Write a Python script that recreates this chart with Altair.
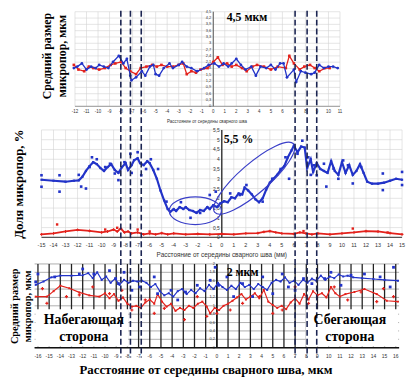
import altair as alt
import pandas as pd

# ---------------- data ----------------
top_blue = [(-12.1,1.82),(-11.8,1.89),(-11.4,2.04),(-11.0,1.75),(-10.6,1.89),(-10.2,1.82),(-9.9,1.97),(-9.5,1.89),(-9.1,1.82),(-8.7,2.11),
            (-8.2,2.40),(-7.8,2.04),(-7.5,2.26),(-7.2,1.46),(-7.1,1.24),(-6.7,1.38),(-6.2,1.67),(-5.9,1.46),(-5.5,1.89),(-5.2,1.97),
            (-5.0,1.53),(-4.7,1.46),(-4.3,1.82),(-3.8,2.04),(-3.5,1.82),(-3.0,1.97),(-2.7,2.11),(-2.3,1.89),(-1.9,1.82),(-1.4,1.67),
            (-0.8,1.82),(-0.4,1.97),(0.1,2.04),(0.5,1.89),(0.9,2.04),(1.3,1.89),(1.6,2.04),(2.0,2.26),(2.4,1.97),(2.8,1.75),
            (3.3,1.89),(3.7,1.46),(4.1,1.89),(4.6,1.82),(5.0,1.97),(5.4,1.75),(5.8,2.04),(6.1,2.04),(6.4,1.38),(7.0,1.75),
            (7.2,1.16),(7.6,1.67),(8.0,1.60),(8.5,1.53),(8.8,1.60),(9.2,1.97),(9.6,1.82),(10.0,1.89),(10.4,1.89),(10.8,1.82)]
top_red = [(-12.1,1.97),(-11.7,1.75),(-11.2,1.67),(-10.8,1.89),(-10.4,1.82),(-9.9,1.75),(-9.4,1.82),(-8.9,1.97),(-8.5,2.04),(-8.0,2.11),
           (-7.6,1.82),(-7.2,1.67),(-6.7,1.53),(-6.3,1.82),(-5.8,1.89),(-5.3,1.97),(-4.9,1.89),(-4.5,1.97),(-4.0,1.89),(-3.5,1.89),
           (-3.0,1.97),(-2.6,2.04),(-2.3,1.53),(-1.9,1.67),(-1.5,1.60),(-1.1,1.75),(-0.5,1.82),(0.0,2.11),(0.4,2.33),(0.8,1.97),
           (1.2,2.04),(1.6,1.89),(2.0,1.97),(2.5,1.82),(2.9,1.67),(3.4,1.89),(3.8,1.97),(4.4,1.89),(5.0,1.75),(5.6,1.89),
           (6.3,1.82),(6.6,2.40),(7.0,2.04),(7.5,1.75),(7.9,1.89),(8.4,1.97),(8.8,1.82),(9.2,1.67),(9.7,1.82),(10.1,1.82)]

mid_blue_line = [(-15.0,2.95),(-14.0,2.90),(-13.0,2.85),(-12.3,2.90),(-11.9,2.92),(-11.6,3.10),(-11.3,3.40),(-11.0,3.65),(-10.7,3.85),(-10.4,3.75),
                 (-10.1,3.55),(-9.8,3.40),(-9.5,3.60),(-9.2,3.75),(-8.9,3.45),(-8.6,3.30),(-8.3,3.60),(-8.0,3.80),(-7.8,3.45),(-7.5,3.70),
                 (-7.3,3.95),(-7.0,4.05),(-6.8,3.80),(-6.5,3.70),(-6.2,3.90),(-6.0,3.80),(-5.7,3.45),(-5.4,3.00),(-5.1,2.40),(-4.8,1.90),
                 (-4.5,1.45),(-4.3,1.30),(-4.0,1.45),(-3.8,1.35),(-3.5,1.55),(-3.2,1.45),(-3.0,1.55),(-2.7,1.40),(-2.4,1.35),(-2.1,1.25),
                 (-1.8,1.40),(-1.5,1.35),(-1.2,1.55),(-1.0,1.45),(-0.7,1.65),(-0.4,1.55),(-0.1,1.75),(0.2,1.85),(0.5,1.80),(0.8,2.05),
                 (1.1,2.00),(1.4,2.25),(1.7,2.20),(1.9,2.55),(2.2,2.40),(2.5,2.20),(2.8,1.95),(3.1,1.80),(3.4,2.00),(3.7,2.45),
                 (4.0,2.80),(4.3,3.00),(4.6,3.20),(4.9,3.45),(5.2,3.65),(5.5,4.10),(5.8,4.45),(6.0,4.70),(6.3,4.35),(6.6,4.65),
                 (6.9,4.60),(7.1,3.55),(7.4,4.00),(7.6,3.35),(7.9,3.80),(8.2,3.50),(8.5,3.40),(8.8,3.30),(9.1,3.90),(9.4,3.40),
                 (9.7,3.20),(10.0,3.85),(10.3,3.30),(10.6,3.70),(10.9,3.20),(11.2,3.40),(11.5,3.75),(11.8,3.30),(12.1,2.85),(12.5,2.75),
                 (13.0,2.75),(13.5,2.80),(14.0,2.90),(14.5,3.00),(15.0,2.95)]
mid_blue_pts = [(-15,3.18),(-15,2.59),(-13.5,3.18),(-13.5,2.34),(-11.9,3.2),(-11.7,2.6),(-11.3,2.5),(-11,3.6),(-10.8,4.1),(-10.4,4.0),
                (-9.7,3.6),(-9.3,3.77),(-8.9,3.27),(-8.6,2.93),(-8.1,3.85),(-7.6,4.28),(-7.5,3.3),(-7.0,4.36),(-6.7,3.18),(-6.3,3.5),
                (-5.9,4.0),(-5.3,3.5),(-4.6,1.83),(-3.4,1.8),(-2.6,1.0),(-1.8,1.25),(-1.0,2.17),(-0.5,2.34),(0.7,2.25),(1.5,2.17),
                (2.05,2.68),(3.4,1.83),(4.2,3.0),(4.9,3.5),(5.3,4.1),(5.6,3.0),(6.3,4.28),(6.7,4.95),(7.2,4.1),(7.4,3.2),
                (7.65,3.69),(7.9,3.18),(8.5,3.77),(8.7,2.6),(9.3,3.52),(9.7,3.0),(10.1,3.94),(10.5,3.69),(10.9,2.76),(11.6,3.6),
                (13.4,3.27),(13.4,2.42),(15,3.35),(15,2.68)]
mid_red_line = [(-15,0.15),(-14,0.20),(-13,0.30),(-12,0.38),(-11,0.33),(-10,0.25),(-9.5,0.30),(-9.0,0.40),(-8.7,0.30),(-8.4,0.45),
                (-8.1,0.25),(-7.8,0.30),(-7.5,0.20),(-7.0,0.25),(-6.5,0.15),(-6.0,0.20),(-5.5,0.15),(-5.0,0.22),(-4.5,0.15),(-4.0,0.20),
                (-3.0,0.15),(-2.0,0.18),(-1.0,0.15),(0.0,0.18),(1.0,0.15),(2.0,0.20),(3.0,0.22),(3.5,0.28),(4.0,0.32),(4.5,0.25),
                (5.0,0.20),(6.0,0.18),(6.5,0.25),(7.0,0.20),(7.5,0.15),(8.0,0.20),(9.0,0.15),(10.0,0.20),(11.0,0.25),(12.0,0.32),
                (13.0,0.30),(14.0,0.22),(15.0,0.15)]
mid_red_pts = [(-13.7,0.66),(-9.7,0.40),(-8.7,0.49),(-7.0,0.40),(-6.0,0.30),(6.8,0.32),(10.9,0.45),(13.8,0.25)]

bot_blue_line = [(-16.2,1.50),(-15.5,1.58),(-14.8,1.68),(-14.0,1.72),(-13.0,1.72),(-12.0,1.73),(-11.5,1.78),(-11.1,1.66),(-10.7,1.80),(-10.3,1.62),
                 (-9.9,1.70),(-9.5,1.55),(-9.1,1.65),(-8.7,1.50),(-8.3,1.62),(-7.9,1.55),(-7.5,1.60),(-7.1,1.58),(-6.7,1.60),(-6.3,1.55),
                 (-5.9,1.45),(-5.5,1.52),(-5.1,1.35),(-4.7,1.25),(-4.3,1.30),(-3.9,1.22),(-3.5,1.35),(-3.1,1.40),(-2.7,1.28),(-2.3,1.38),
                 (-1.9,1.30),(-1.5,1.42),(-1.1,1.35),(-0.7,1.50),(-0.3,1.40),(0.1,1.55),(0.5,1.45),(0.9,1.38),(1.3,1.48),(1.7,1.40),
                 (2.1,1.55),(2.5,1.45),(2.9,1.50),(3.3,1.40),(3.7,1.52),(4.1,1.45),(4.5,1.38),(4.9,1.55),(5.3,1.62),(5.7,1.58),
                 (6.1,1.68),(6.5,1.55),(6.9,1.60),(7.3,1.50),(7.7,1.62),(8.1,1.55),(8.5,1.65),(8.9,1.60),(9.3,1.72),(9.7,1.62),
                 (10.1,1.70),(10.5,1.66),(10.9,1.75),(11.3,1.70),(11.7,1.72),(12.2,1.68),(13.0,1.66),(14.0,1.64),(15.0,1.62),(16.2,1.60)]
bot_blue_pts = [(-16.2,1.57),(-16.0,1.76),(-14.5,1.69),(-12.3,1.76),(-12.0,1.88),(-11.0,1.76),(-9.6,1.84),(-9.05,1.65),(-8.8,1.53),(-8.3,1.80),
                (-7.6,1.37),(-6.9,1.45),(-5.6,1.69),(-5.3,1.29),(-4.1,1.37),(-3.5,1.14),(-2.8,1.33),(-1.75,1.49),(-0.6,1.61),(-0.15,1.92),
                (0.15,1.49),(0.9,1.69),(1.5,1.22),(2.3,1.53),(3.2,1.22),(4.1,1.69),(5.0,1.29),(5.85,1.76),(6.4,1.45),(7.0,1.37),
                (7.75,1.65),(8.5,1.53),(9.65,1.65),(10.2,1.80),(11.1,1.49),(12.0,1.73),(13.2,1.76),(14.6,1.69),(15.5,1.45),(15.8,1.92)]
bot_red_line = [(-16.2,1.22),(-15.2,1.22),(-14.6,1.35),(-14.0,1.48),(-13.2,1.42),(-12.3,1.32),(-11.4,1.25),(-10.5,1.22),(-10.0,1.30),(-9.6,1.18),
                (-9.2,1.28),(-8.8,1.12),(-8.4,1.20),(-8.0,1.05),(-7.6,0.98),(-7.2,1.00),(-6.8,0.95),(-6.4,1.08),(-6.0,1.15),(-5.6,1.05),
                (-5.3,1.28),(-4.9,1.10),(-4.5,0.98),(-4.1,1.05),(-3.7,0.88),(-3.3,0.95),(-2.9,0.90),(-2.5,1.00),(-2.1,0.95),(-1.7,1.05),
                (-1.3,1.10),(-0.9,0.98),(-0.6,0.82),(-0.2,0.95),(0.2,0.90),(0.6,1.00),(1.0,1.05),(1.4,1.12),(1.8,1.20),(2.2,1.28),
                (2.6,1.15),(3.0,1.22),(3.4,1.30),(3.8,1.18),(4.2,1.38),(4.6,1.10),(5.0,1.02),(5.4,0.95),(5.8,1.00),(6.2,0.92),
                (6.6,1.08),(7.0,1.18),(7.4,1.05),(7.8,1.28),(8.2,1.15),(8.6,1.35),(9.0,1.25),(9.4,1.30),(9.8,1.20),(10.2,1.45),
                (10.6,1.30),(11.0,1.22),(11.5,1.28),(12.3,1.33),(13.2,1.40),(14.3,1.28),(15.2,1.12),(16.2,1.10)]
bot_red_pts = [(-15.6,1.41),(-15.2,1.06),(-13.45,1.22),(-12.3,1.26),(-11.1,1.45),(-9.6,1.29),(-8.5,1.37),(-7.6,0.90),(-6.4,1.14),(-5.6,0.82),
               (-4.7,0.94),(-2.9,0.67),(-1.75,1.22),(-0.9,0.75),(0.0,0.82),(1.2,0.90),(2.3,1.06),(3.8,1.22),(5.0,0.82),(5.85,0.90),
               (7.0,1.45),(8.2,1.06),(9.35,0.82),(10.5,1.45),(11.7,1.14),(12.9,1.33),(14.3,1.10),(14.9,1.41),(15.8,1.22)]

# boundaries of the zones (mm, middle-panel scale)
dash_x = [-8.4, -7.6, -6.7, 6.1, 7.1, 7.9]

# ellipses on the middle panel: centre x, centre y
ell_small = [(-2.2, 1.36)]
ell_big = [(2.7, 3.03)]

top_xticks = list(range(-12, 12))
top_yticks = [0, 0.3, 0.6, 0.9, 1.2, 1.5, 1.8, 2.1, 2.4, 2.7, 3.0, 3.3, 3.6, 3.9, 4.2, 4.5]
mid_xticks = list(range(-15, 16))
mid_yticks = [0, 0.5, 1, 1.5, 2, 2.5, 3, 3.5, 4, 4.5, 5, 5.5]
bot_xticks = list(range(-16, 17))
bot_yticks = [0, 0.2, 0.4, 0.6, 0.8, 1.0, 1.2, 1.4, 1.6, 1.8, 2.0]

def lab(v):
    s = ("%g" % v)
    return s.replace(".", ",")

BLUE = "#2233c8"
RED = "#e3221c"
DASH = "#1c2552"
SERIF = "Liberation Serif"
SANS = "Liberation Sans"

# ---------------- layout (view pixels) ----------------
W, H = 404, 372
TOP = dict(xd=[-12, 11], xr=[68, 337], yd=[0, 4.5], yr=[97, 1])
MID = dict(xd=[-15, 15], xr=[34, 400], yd=[0, 5.5], yr=[230, 121])
BOT = dict(xd=[-16.3, 16.3], xr=[27, 397], yd=[0, 2], yr=[342, 257])


def sx(p):
    return alt.Scale(domain=p["xd"], range=p["xr"], nice=False, zero=False)


def sy(p):
    return alt.Scale(domain=p["yd"], range=p["yr"], nice=False, zero=False)


def X(p, f="x"):
    return alt.X(f + ":Q", scale=sx(p), axis=None)


def Y(p, f="y"):
    return alt.Y(f + ":Q", scale=sy(p), axis=None)


def df(pairs):
    return pd.DataFrame(pairs, columns=["x", "y"])


layers = []


def vgrid(p, ticks, color, w):
    layers.append(alt.Chart(pd.DataFrame({"x": ticks})).mark_rule(color=color, strokeWidth=w).encode(
        x=X(p), y=alt.value(p["yr"][1]), y2=alt.value(p["yr"][0])))


def hgrid(p, ticks, color, w):
    layers.append(alt.Chart(pd.DataFrame({"y": ticks})).mark_rule(color=color, strokeWidth=w).encode(
        y=Y(p), x=alt.value(p["xr"][0]), x2=alt.value(p["xr"][1])))


def xlabels(p, ticks, ypix, size):
    d = pd.DataFrame({"x": ticks, "t": [lab(v) for v in ticks]})
    layers.append(alt.Chart(d).mark_text(fontSize=size, font=SANS, baseline="top", color="#333").encode(
        x=X(p), y=alt.value(ypix), text="t:N"))


def ylabels(p, ticks, size, dx=-2):
    d = pd.DataFrame({"x": [0] * len(ticks), "y": ticks, "t": [lab(v) for v in ticks]})
    layers.append(alt.Chart(d).mark_text(fontSize=size, font=SANS, align="right", baseline="middle", dx=dx, color="#333").encode(
        x=X(p), y=Y(p), text="t:N"))


def yaxis(p, color, w):
    layers.append(alt.Chart(pd.DataFrame({"x": [0]})).mark_rule(color=color, strokeWidth=w).encode(
        x=X(p), y=alt.value(p["yr"][1]), y2=alt.value(p["yr"][0])))


def xaxis(p, color, w):
    layers.append(alt.Chart(pd.DataFrame({"y": [p["yd"][0]]})).mark_rule(color=color, strokeWidth=w).encode(
        y=Y(p), x=alt.value(p["xr"][0]), x2=alt.value(p["xr"][1])))


def line(p, pairs, color, w):
    layers.append(alt.Chart(df(pairs)).mark_line(color=color, strokeWidth=w).encode(x=X(p), y=Y(p)))


def pts(p, pairs, color, shape, size, filled=True, sw=1):
    layers.append(alt.Chart(df(pairs)).mark_point(color=color, shape=shape, size=size, filled=filled,
                                                 opacity=1, strokeWidth=sw).encode(x=X(p), y=Y(p)))


def text(s, x, y, size, bold=True, font=SERIF, angle=0, align="center", baseline="middle", color="black"):
    layers.append(alt.Chart(pd.DataFrame({"t": [s]})).mark_text(
        fontSize=size, font=font, fontWeight="bold" if bold else "normal", angle=angle,
        align=align, baseline=baseline, color=color).encode(
        x=alt.value(x), y=alt.value(y), text="t:N"))


# ---------- top panel ----------
vgrid(TOP, top_xticks, "#d2d2d2", 0.6)
hgrid(TOP, top_yticks, "#d2d2d2", 0.6)
xaxis(TOP, "#999999", 1)
yaxis(TOP, "#555555", 1)
ylabels(TOP, top_yticks, 4)
xlabels(TOP, top_xticks, 100, 4.5)
line(TOP, top_red, RED, 1.3)
pts(TOP, top_red, RED, "square", 7)
line(TOP, top_blue, BLUE, 1.3)
pts(TOP, top_blue, BLUE, "circle", 8)

# ---------- middle panel ----------
vgrid(MID, mid_xticks, "#d2d2d2", 0.6)
hgrid(MID, mid_yticks, "#d2d2d2", 0.6)
xaxis(MID, "#555555", 1.2)
yaxis(MID, "#333333", 1.4)
ylabels(MID, mid_yticks, 5)
xlabels(MID, mid_xticks, 236, 5.5)
line(MID, mid_red_line, RED, 1.8)
pts(MID, mid_red_line, RED, "cross", 8)
pts(MID, mid_red_pts, RED, "square", 6)
line(MID, mid_blue_line, BLUE, 2.2)
pts(MID, mid_blue_line, BLUE, "square", 5)
pts(MID, mid_blue_pts, BLUE, "square", 7)
layers.append(alt.Chart(df(ell_small)).mark_point(
    shape="M -1 0 A 1 0.53 0 1 1 1 0 A 1 0.53 0 1 1 -1 0 Z", size=2809, filled=False,
    color="#3a3fc8", strokeWidth=1.2, opacity=1).encode(x=X(MID), y=Y(MID)))
layers.append(alt.Chart(df(ell_big)).mark_point(
    shape="M -1 0 A 1 0.28 0 1 1 1 0 A 1 0.28 0 1 1 -1 0 Z", size=11236, angle=319, filled=False,
    color="#3a3fc8", strokeWidth=1.2, opacity=1).encode(x=X(MID), y=Y(MID)))

# ---------- bottom panel ----------
hgrid(BOT, bot_yticks, "#8a8a8a", 0.7)
vgrid(BOT, bot_xticks, "#222222", 1.3)
xaxis(BOT, "#111111", 1.5)
yaxis(BOT, "#111111", 1.5)
ylabels(BOT, bot_yticks, 4)
xlabels(BOT, bot_xticks, 348, 5)
line(BOT, bot_red_line, RED, 1.2)
pts(BOT, bot_red_pts, RED, "cross", 10)
pts(BOT, bot_red_line, RED, "square", 4)
line(BOT, bot_blue_line, BLUE, 1.2)
pts(BOT, bot_blue_pts, BLUE, "square", 8)
pts(BOT, bot_blue_line, BLUE, "square", 4)

# white boxes behind the side labels
layers.append(alt.Chart(pd.DataFrame({"a": [0]})).mark_rect(color="white").encode(
    x=alt.value(28), x2=alt.value(122), y=alt.value(303), y2=alt.value(341)))
layers.append(alt.Chart(pd.DataFrame({"a": [0]})).mark_rect(color="white").encode(
    x=alt.value(302), x2=alt.value(396), y=alt.value(303), y2=alt.value(341)))

# ---------- zone boundaries ----------
layers.append(alt.Chart(pd.DataFrame({"x": dash_x})).mark_rule(
    color=DASH, strokeWidth=1.6, strokeDash=[6, 3]).encode(
    x=X(MID), y=alt.value(0), y2=alt.value(352)))

# ---------- texts ----------
text("4,5 мкм", 222, 6, 12, align="left")
text("5,5 %", 219, 130, 12, align="left")
text("2 мкм", 222, 265, 12, align="left")
text("Средний размер", 40, 46, 12, angle=270)
text("микропор, мкм", 55, 46, 12, angle=270)
text("Доля микропор, %", 11, 176, 13, angle=270)
text("Средний размер", 7, 300, 10.5, angle=270)
text("микропор, мкм", 20, 300, 10.5, angle=270)
text("Расстояние от середины сварного шва", 202, 113, 4.5, bold=False, font=SANS, color="#333")
text("Расстояние от середины сварного шва (мм)", 217, 248, 6.5, bold=False, font=SANS, color="#333")
text("Набегающая", 77, 314, 14)
text("сторона", 77, 331, 14)
text("Сбегающая", 347, 314, 14)
text("сторона", 347, 331, 14)
text("Расстояние от середины сварного шва, мкм", 201, 365, 13)

chart = alt.layer(*layers).resolve_scale(x="independent", y="independent").properties(
    width=W, height=H, autosize=alt.AutoSizeParams(type="none"), padding=0
).configure_view(stroke=None)

chart.save("out.html", embed_options={"renderer": "svg", "actions": False})
